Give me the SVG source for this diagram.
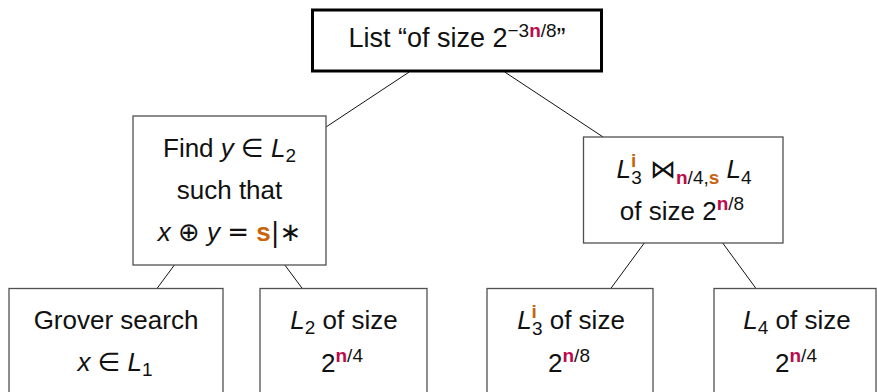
<svg xmlns="http://www.w3.org/2000/svg" width="877" height="392" viewBox="0 0 877 392">
  <style>
    .box { fill: #ffffff; stroke: #505050; stroke-width: 1.3; }
    .root { fill: #ffffff; stroke: #000000; stroke-width: 3; }
    .edge { stroke: #111111; stroke-width: 1; fill: none; }
    text { font-family: "Liberation Sans", "DejaVu Sans", sans-serif; font-size: 26px; fill: #111111; text-anchor: middle; }
    .big { font-size: 27px; }
    .m { font-style: italic; }
    .sym { font-family: "DejaVu Sans", sans-serif; font-style: normal; }
    .sc { font-size: 19px; font-style: normal; }
    .n { font-weight: bold; fill: #c0094b; }
    .s { font-weight: bold; fill: #c8650c; }
  </style>

  <!-- tree edges -->
  <g id="edges">
    <line class="edge" x1="409.2" y1="72" x2="326" y2="127"/>
    <line class="edge" x1="504.7" y1="72" x2="603.1" y2="137"/>
    <line class="edge" x1="174.4" y1="265" x2="157" y2="288.5"/>
    <line class="edge" x1="284.8" y1="265" x2="302.3" y2="288.5"/>
    <line class="edge" x1="644.3" y1="243" x2="610.8" y2="288.5"/>
    <line class="edge" x1="722.7" y1="243" x2="756" y2="288.5"/>
  </g>

  <!-- root -->
  <g id="root">
    <rect class="root" x="312.5" y="10" width="289" height="61"/>
    <text class="big" x="457" y="47">List “of size 2<tspan class="sc" dy="-10">−3</tspan><tspan class="sc n">n</tspan><tspan class="sc">/8</tspan><tspan dy="10">”</tspan></text>
  </g>

  <!-- left inner node -->
  <g id="find-y">
    <rect class="box" x="133" y="116" width="193" height="149"/>
    <text x="229.5" y="157">Find <tspan class="m">y</tspan> <tspan class="sym">∈</tspan> <tspan class="m">L</tspan><tspan class="sc" dy="5">2</tspan></text>
    <text x="229.5" y="199">such that</text>
    <text x="229.5" y="241"><tspan class="m">x</tspan> <tspan class="sym">⊕</tspan> <tspan class="m">y</tspan> <tspan class="sym">=</tspan> <tspan class="s">s</tspan><tspan class="sym">|∗</tspan></text>
  </g>

  <!-- right inner node -->
  <g id="join">
    <rect class="box" x="583.5" y="137" width="199.5" height="106"/>
    <text x="684" y="178"><tspan class="m">L</tspan><tspan class="sc s" dy="-11">i</tspan><tspan class="sc" dx="-5" dy="17">3</tspan><tspan class="sym" dy="-6"> ⋈</tspan><tspan class="sc n" dy="6">n</tspan><tspan class="sc">/4,</tspan><tspan class="sc s">s</tspan><tspan class="m" dy="-6"> L</tspan><tspan class="sc" dy="6">4</tspan></text>
    <text x="682" y="220">of size 2<tspan class="sc n" dy="-10">n</tspan><tspan class="sc">/8</tspan></text>
  </g>

  <!-- leaves -->
  <g id="grover">
    <rect class="box" x="9" y="288.5" width="214" height="120"/>
    <text x="116" y="329">Grover search</text>
    <text x="115" y="371"><tspan class="m">x</tspan> <tspan class="sym">∈</tspan> <tspan class="m">L</tspan><tspan class="sc" dy="5">1</tspan></text>
  </g>

  <g id="list-l2">
    <rect class="box" x="260" y="288.5" width="167" height="120"/>
    <text x="344" y="329"><tspan class="m">L</tspan><tspan class="sc" dy="5">2</tspan><tspan dy="-5"> of size</tspan></text>
    <text x="342" y="372">2<tspan class="sc n" dy="-10">n</tspan><tspan class="sc">/4</tspan></text>
  </g>

  <g id="list-l3">
    <rect class="box" x="487" y="288.5" width="166" height="120"/>
    <text x="571" y="329"><tspan class="m">L</tspan><tspan class="sc s" dy="-11">i</tspan><tspan class="sc" dx="-5" dy="17">3</tspan><tspan dy="-6"> of size</tspan></text>
    <text x="569" y="372">2<tspan class="sc n" dy="-10">n</tspan><tspan class="sc">/8</tspan></text>
  </g>

  <g id="list-l4">
    <rect class="box" x="714" y="288.5" width="162" height="120"/>
    <text x="797" y="329"><tspan class="m">L</tspan><tspan class="sc" dy="5">4</tspan><tspan dy="-5"> of size</tspan></text>
    <text x="796" y="372">2<tspan class="sc n" dy="-10">n</tspan><tspan class="sc">/4</tspan></text>
  </g>
</svg>
